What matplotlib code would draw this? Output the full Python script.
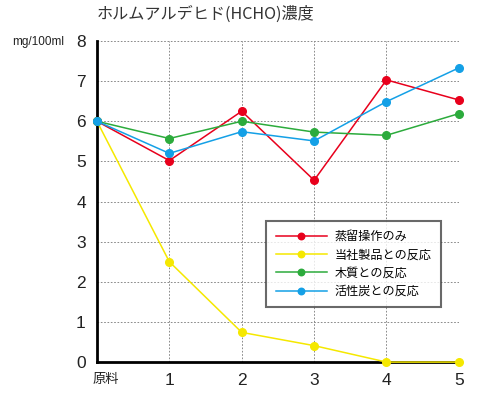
import matplotlib
matplotlib.use("Agg")
import matplotlib.pyplot as plt
import matplotlib.transforms as mtransforms

plt.rcParams["font.family"] = ["Liberation Sans", "Noto Sans CJK JP", "DejaVu Sans"]

# data
x_labels = ["原料", "1", "2", "3", "4", "5"]
distill_only = [6.0, 5.02, 6.25, 4.53, 7.03, 6.53]
our_product = [6.0, 2.5, 0.74, 0.41, 0.0, 0.0]
wood = [6.0, 5.57, 6.0, 5.73, 5.65, 6.19]
charcoal = [6.0, 5.2, 5.74, 5.51, 6.49, 7.33]
series_names = ["蒸留操作のみ", "当社製品との反応", "木質との反応", "活性炭との反応"]

fig = plt.figure(figsize=(4.8, 3.94), dpi=100)
ax = fig.add_axes([0.202, 0.081, 0.754, 0.815])

xs = range(len(x_labels))
styles = [
    (distill_only, "#e8001c"),
    (our_product, "#f5e800"),
    (wood, "#2cab3c"),
    (charcoal, "#14a0e6"),
]
for (vals, c), name in zip(styles, series_names):
    ax.plot(xs, vals, color=c, lw=1.1, marker="o", ms=5.5,
            mfc=c, mec=c, label=name, clip_on=False, zorder=3)

ax.set_xlim(0, 5)
ax.set_ylim(0, 8)
ax.set_xticks(list(xs))
ax.set_xticklabels(x_labels)
ax.set_yticks(range(9))
ax.tick_params(length=0, labelsize=12.5, pad=8, labelcolor="#222222")
first = ax.get_xticklabels()[0]
first.set_fontsize(9.5)
first.set_family(["Noto Sans CJK JP"])
first.set_transform(first.get_transform() +
                    mtransforms.ScaledTranslation(9 / 100, 0, fig.dpi_scale_trans))
ax.grid(True, color="#777777", lw=0.6, ls=(0, (2, 2)))

for side in ["top", "right"]:
    ax.spines[side].set_visible(False)
for side in ["left", "bottom"]:
    ax.spines[side].set_linewidth(2)
    ax.spines[side].set_color("black")

leg = ax.legend(loc="lower right", bbox_to_anchor=(0.95, 0.171),
                borderaxespad=0,
                prop={"family": ["Noto Sans CJK JP"], "size": 8.7},
                frameon=True, fancybox=False, handlelength=4.3, markerscale=0.85,
                borderpad=0.75, labelspacing=0.45, handletextpad=0.6)
leg.get_frame().set_edgecolor("#444444")
leg.get_frame().set_linewidth(1.5)

fig.text(0.202, 0.965, "ホルムアルデヒド(HCHO)濃度", fontsize=11.6,
         ha="left", va="center", color="#333333",
         family=["Noto Sans CJK JP"])
fig.text(0.025, 0.893, "mg/100ml", fontsize=8.5, ha="left", va="center",
         color="#222222")

fig.savefig("out.png", dpi=100)
